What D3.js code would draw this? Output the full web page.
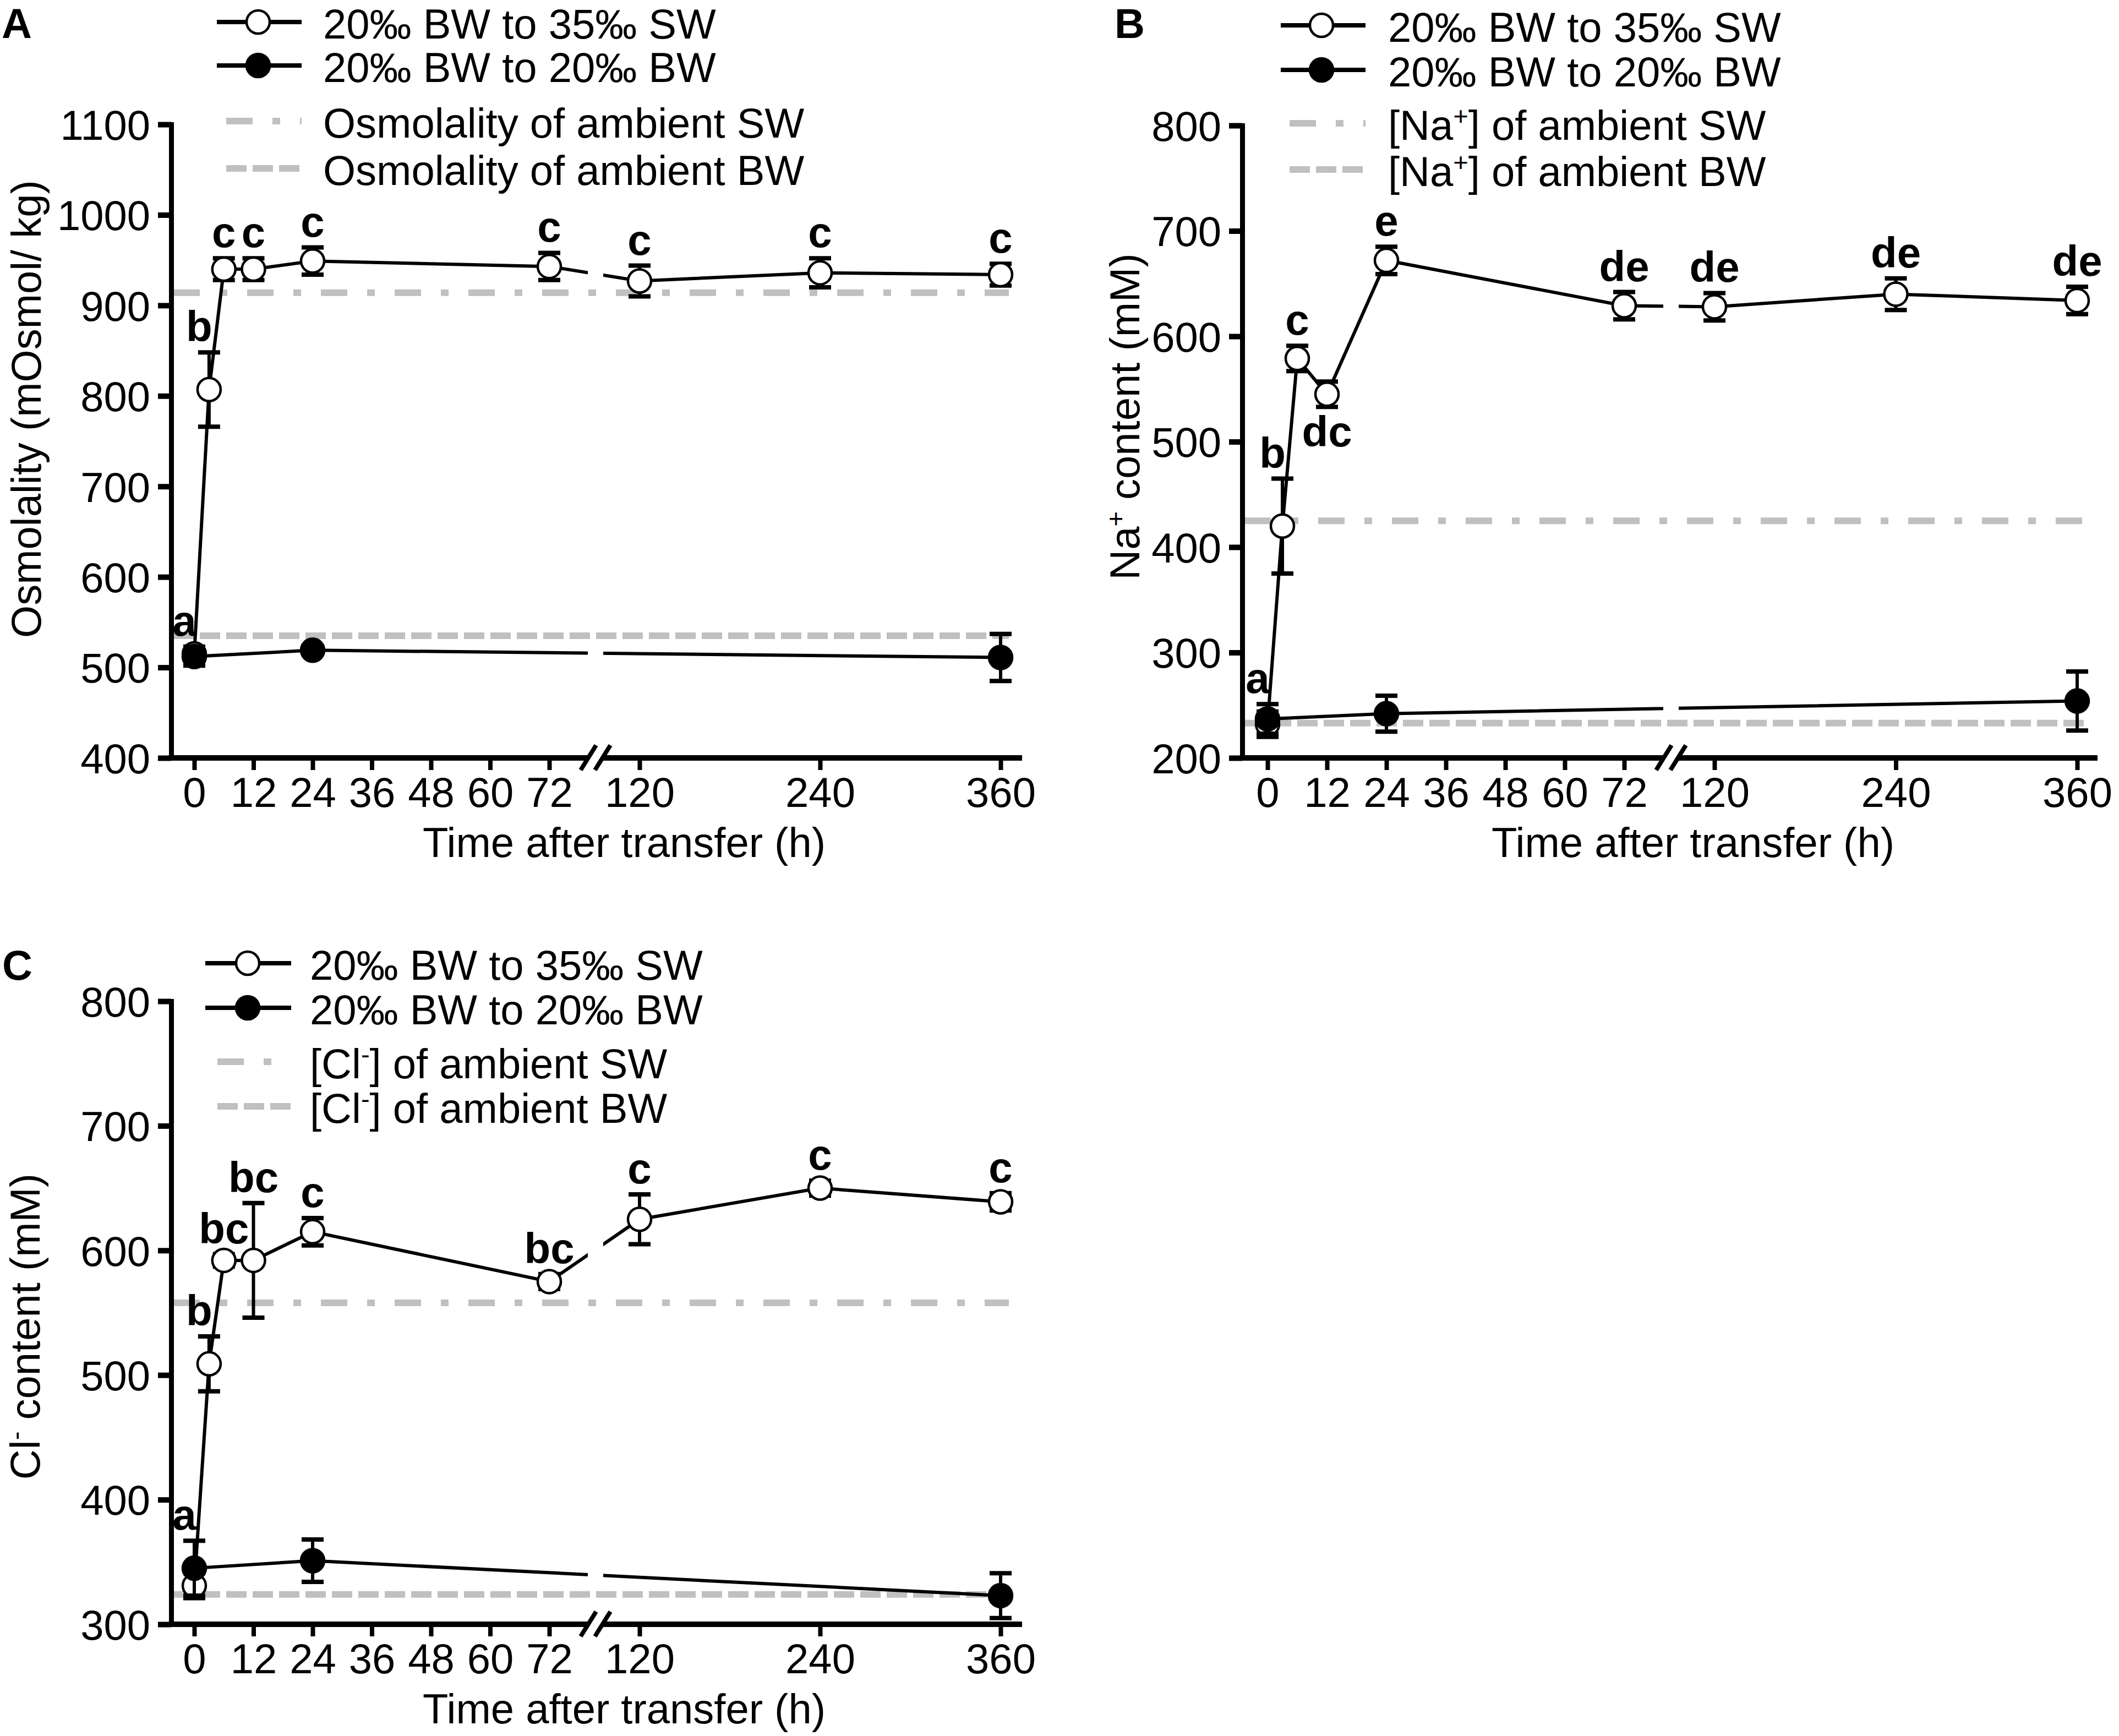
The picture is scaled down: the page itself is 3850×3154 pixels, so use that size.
<!DOCTYPE html>
<html>
<head>
<meta charset="utf-8">
<script src="https://cdn.jsdelivr.net/npm/d3@7"></script>
<style>
  body { margin: 0; background: #fff; }
  text { font-family: "Liberation Sans", Arial, sans-serif; }
</style>
</head>
<body>
<div id="chart"></div>
<script>
// sampling times (h) and axis ticks
var times = [0, 3, 6, 12, 24, 72, 120, 240, 360];
var bwTimes = [0, 24, 360];
var xTicks = [0, 12, 24, 36, 48, 60, 72, 120, 240, 360];

// A: osmolality (mOsmol/kg)
var osmoSW = [515, 807, 940, 940, 949, 943, 927, 936, 934];
var osmoSWErr = [8, 41, 12, 12, 15, 15, 17, 16, 12];
var osmoBW = [512, 519, 511];
var osmoBWErr = [10, 5, 26];
var osmoAmbient = [914, 535];           // SW, BW
var osmoLetters = ["a", "b", "c", "c", "c", "c", "c", "c", "c"];
var osmoTicks = [400, 500, 600, 700, 800, 900, 1000, 1100];

// B: Na+ content (mM)
var naSW = [232, 420, 579, 545, 672, 629, 628, 640, 634];
var naSWErr = [12, 45, 12, 12, 13, 13, 13, 15, 13];
var naBW = [237, 242, 254];
var naBWErr = [14, 17, 28];
var naAmbient = [425, 233];
var naLetters = ["a", "b", "c", "dc", "e", "de", "de", "de", "de"];
var naTicks = [200, 300, 400, 500, 600, 700, 800];

// C: Cl- content (mM)
var clSW = [331, 509, 592, 592, 615, 575, 625, 650, 639];
var clSWErr = [10, 22, 5, 46, 11, 6, 20, 6, 7];
var clBW = [345, 351, 323];
var clBWErr = [22, 17, 18];
var clAmbient = [558, 324];
var clLetters = ["a", "b", "bc", "bc", "c", "bc", "c", "c", "c"];
var clTicks = [300, 400, 500, 600, 700, 800];

var seriesNames = ["20\u2030 BW to 35\u2030 SW", "20\u2030 BW to 20\u2030 BW"];
var osmoLegend = [[{t: "Osmolality of ambient SW"}], [{t: "Osmolality of ambient BW"}]];
var naLegend = [[{t: "[Na"}, {t: "+", sup: true}, {t: "] of ambient SW"}],
                [{t: "[Na"}, {t: "+", sup: true}, {t: "] of ambient BW"}]];
var clLegend = [[{t: "[Cl"}, {t: "-", sup: true}, {t: "] of ambient SW"}],
                [{t: "[Cl"}, {t: "-", sup: true}, {t: "] of ambient BW"}]];
var osmoTitle = [{t: "Osmolality (mOsmol/ kg)"}];
var naTitle = [{t: "Na"}, {t: "+", sup: true}, {t: " content (mM)"}];
var clTitle = [{t: "Cl"}, {t: "-", sup: true}, {t: " content (mM)"}];
var xTitle = "Time after transfer (h)";

var width = 3850, height = 3154;
var gray = "#c0c0c0";
var fs = 76;

var svg = d3.select("#chart").append("svg")
    .attr("width", width)
    .attr("height", height)
    .style("background", "#fff");

var defs = svg.append("defs");

var panels = [
  {label: "A", labelX: 3, labelY: 69,
   sw: osmoSW, swErr: osmoSWErr, bw: osmoBW, bwErr: osmoBWErr, ambient: osmoAmbient,
   letters: osmoLetters, below: [], yDomain: [400, 1100], yTicks: osmoTicks,
   yRange: [1377, 226], xRange: [353, 998, 1162, 1818], yAxisX: 311, xEnd: 1857, breakX: 1082,
   leg: {x1: 394, gx1: 411, x2: 548, cx: 469, tx: 587, rows: [40, 119, 220, 306]},
   legendTexts: osmoLegend, yTitle: osmoTitle, yTitleX: 74, yTitleY: 743, xTitleX: 1134},
  {label: "B", labelX: 2025, labelY: 69,
   sw: naSW, swErr: naSWErr, bw: naBW, bwErr: naBWErr, ambient: naAmbient,
   letters: naLetters, below: [3], yDomain: [200, 800], yTicks: naTicks,
   yRange: [1377, 228], xRange: [2303, 2951, 3115, 3774], yAxisX: 2257, xEnd: 3811, breakX: 3036,
   leg: {x1: 2327, gx1: 2343, x2: 2481, cx: 2401, tx: 2522, rows: [46, 127, 224, 308]},
   legendTexts: naLegend, yTitle: naTitle, yTitleX: 2070, yTitleY: 757, xTitleX: 3076},
  {label: "C", labelX: 4, labelY: 1780,
   sw: clSW, swErr: clSWErr, bw: clBW, bwErr: clBWErr, ambient: clAmbient,
   letters: clLetters, below: [], yDomain: [300, 800], yTicks: clTicks,
   yRange: [2951, 1819], xRange: [353, 998, 1162, 1818], yAxisX: 311, xEnd: 1857, breakX: 1082,
   leg: {x1: 373, gx1: 395, x2: 529, cx: 450, tx: 563, rows: [1750, 1831, 1929, 2010]},
   legendTexts: clLegend, yTitle: clTitle, yTitleX: 72, yTitleY: 2410, xTitleX: 1134}
];

// text with optional superscript parts
function richText(sel, parts, size) {
  var shift = 0;
  parts.forEach(function(p) {
    var ts = sel.append("tspan").text(p.t);
    if (p.sup) {
      ts.attr("font-size", size * 0.62).attr("dy", -size * 0.36);
      shift = size * 0.36;
    } else if (shift) {
      ts.attr("dy", shift);
      shift = 0;
    }
  });
}

var dashes = ["48,36,14,36", "37,11"];
var r = 21;

panels.forEach(function(p) {
  var g = svg.append("g");
  var x = d3.scaleLinear().domain([0, 72, 120, 360]).range(p.xRange);
  var y = d3.scaleLinear().domain(p.yDomain).range(p.yRange);
  var yB = p.yRange[0];

  // clip so data lines are broken at the axis break
  var clipId = "clip" + p.label;
  var cp = defs.append("clipPath").attr("id", clipId);
  cp.append("rect").attr("x", 0).attr("y", 0).attr("width", p.breakX - 14).attr("height", height);
  cp.append("rect").attr("x", p.breakX + 14).attr("y", 0).attr("width", width).attr("height", height);

  // ambient reference lines
  g.selectAll(".ambient")
    .data(p.ambient)
    .join("line")
    .attr("class", "ambient")
    .attr("x1", p.yAxisX + 4)
    .attr("x2", x(360) + 15)
    .attr("y1", function(d) { return y(d); })
    .attr("y2", function(d) { return y(d); })
    .attr("stroke", gray)
    .attr("stroke-width", 12)
    .attr("stroke-dasharray", function(d, i) { return dashes[i]; });

  var swData = times.map(function(t, i) { return {t: t, v: p.sw[i], e: p.swErr[i]}; });
  var bwData = bwTimes.map(function(t, i) { return {t: t, v: p.bw[i], e: p.bwErr[i]}; });

  var line = d3.line()
    .x(function(d) { return x(d.t); })
    .y(function(d) { return y(d.v); });

  [swData, bwData].forEach(function(data) {
    g.append("path")
      .datum(data)
      .attr("d", line)
      .attr("fill", "none")
      .attr("stroke", "#000")
      .attr("stroke-width", 6)
      .attr("clip-path", "url(#" + clipId + ")");
  });

  [swData, bwData].forEach(function(data, si) {
    var eb = g.append("g");
    eb.selectAll(".bar").data(data).join("line")
      .attr("x1", function(d) { return x(d.t); })
      .attr("x2", function(d) { return x(d.t); })
      .attr("y1", function(d) { return y(d.v - d.e); })
      .attr("y2", function(d) { return y(d.v + d.e); })
      .attr("stroke", "#000").attr("stroke-width", 6);
    [-1, 1].forEach(function(s) {
      eb.selectAll(".cap" + s).data(data).join("line")
        .attr("x1", function(d) { return x(d.t) - 20; })
        .attr("x2", function(d) { return x(d.t) + 20; })
        .attr("y1", function(d) { return y(d.v + s * d.e); })
        .attr("y2", function(d) { return y(d.v + s * d.e); })
        .attr("stroke", "#000").attr("stroke-width", 8);
    });
    g.append("g").selectAll("circle").data(data).join("circle")
      .attr("cx", function(d) { return x(d.t); })
      .attr("cy", function(d) { return y(d.v); })
      .attr("r", r)
      .attr("fill", si === 0 ? "#fff" : "#000")
      .attr("stroke", "#000")
      .attr("stroke-width", 4.5);
  });

  // significance letters
  g.append("g").selectAll("text").data(swData).join("text")
    .attr("x", function(d, i) { return x(d.t) + (i < 2 ? -18 : 0); })
    .attr("y", function(d, i) {
      if (p.below.indexOf(i) >= 0) return y(d.v - d.e) + 72;
      var top = d.v + d.e;
      var bi = bwTimes.indexOf(d.t);
      if (bi >= 0) top = Math.max(top, p.bw[bi] + p.bwErr[bi]);
      return y(top) - 20;
    })
    .attr("text-anchor", "middle")
    .attr("font-weight", "bold")
    .attr("font-size", 78)
    .text(function(d, i) { return p.letters[i]; });

  // y axis
  var yAxis = d3.axisLeft(y).tickValues(p.yTicks).tickFormat(d3.format("d"))
    .tickSize(24).tickSizeOuter(0).tickPadding(14);
  var ya = g.append("g").attr("transform", "translate(" + p.yAxisX + ",0)").call(yAxis);
  ya.select(".domain").attr("stroke-width", 9).attr("stroke-linecap", "square");
  ya.selectAll(".tick line").attr("stroke-width", 10);
  ya.selectAll(".tick text")
    .attr("font-size", fs)
    .attr("font-family", '"Liberation Sans", Arial, sans-serif')
    .attr("fill", "#000")
    .attr("dy", "0.36em");

  // x axis with break
  var xAxis = d3.axisBottom(x).tickValues(xTicks).tickSize(22).tickSizeOuter(0).tickPadding(13);
  var xa = g.append("g").attr("transform", "translate(0," + yB + ")").call(xAxis);
  xa.select(".domain").remove();
  xa.selectAll(".tick line").attr("stroke-width", 8);
  xa.selectAll(".tick text")
    .attr("font-size", fs)
    .attr("font-family", '"Liberation Sans", Arial, sans-serif')
    .attr("fill", "#000");

  g.append("line")
    .attr("x1", p.yAxisX - 4.5).attr("x2", p.breakX - 13)
    .attr("y1", yB).attr("y2", yB)
    .attr("stroke", "#000").attr("stroke-width", 10);
  g.append("line")
    .attr("x1", p.breakX + 13).attr("x2", p.xEnd)
    .attr("y1", yB).attr("y2", yB)
    .attr("stroke", "#000").attr("stroke-width", 10);
  [-13, 13].forEach(function(dx) {
    g.append("line")
      .attr("x1", p.breakX + dx - 14).attr("y1", yB + 22)
      .attr("x2", p.breakX + dx + 14).attr("y2", yB - 23)
      .attr("stroke", "#000").attr("stroke-width", 8);
  });

  // titles
  g.append("text")
    .attr("x", p.xTitleX).attr("y", yB + 180)
    .attr("text-anchor", "middle")
    .attr("font-size", fs)
    .text(xTitle);

  var yt = g.append("text")
    .attr("transform", "translate(" + p.yTitleX + "," + p.yTitleY + ") rotate(-90)")
    .attr("text-anchor", "middle")
    .attr("font-size", fs);
  richText(yt, p.yTitle, fs);

  g.append("text")
    .attr("x", p.labelX).attr("y", p.labelY)
    .attr("font-weight", "bold")
    .attr("font-size", 76)
    .text(p.label);

  // legend
  var lg = g.append("g");
  [0, 1].forEach(function(i) {
    var ry = p.leg.rows[i];
    lg.append("line")
      .attr("x1", p.leg.x1).attr("x2", p.leg.x2)
      .attr("y1", ry).attr("y2", ry)
      .attr("stroke", "#000").attr("stroke-width", 8);
    lg.append("circle")
      .attr("cx", p.leg.cx).attr("cy", ry).attr("r", r)
      .attr("fill", i === 0 ? "#fff" : "#000")
      .attr("stroke", "#000").attr("stroke-width", 4.5);
    lg.append("text")
      .attr("x", p.leg.tx).attr("y", ry + 30)
      .attr("font-size", fs)
      .text(seriesNames[i]);
  });
  [0, 1].forEach(function(i) {
    var ry = p.leg.rows[i + 2];
    lg.append("line")
      .attr("x1", p.leg.gx1).attr("x2", p.leg.x2)
      .attr("y1", ry).attr("y2", ry)
      .attr("stroke", gray).attr("stroke-width", 12)
      .attr("stroke-dasharray", dashes[i]);
    var t = lg.append("text")
      .attr("x", p.leg.tx).attr("y", ry + 30)
      .attr("font-size", fs);
    richText(t, p.legendTexts[i], fs);
  });
});
</script>
</body>
</html>
